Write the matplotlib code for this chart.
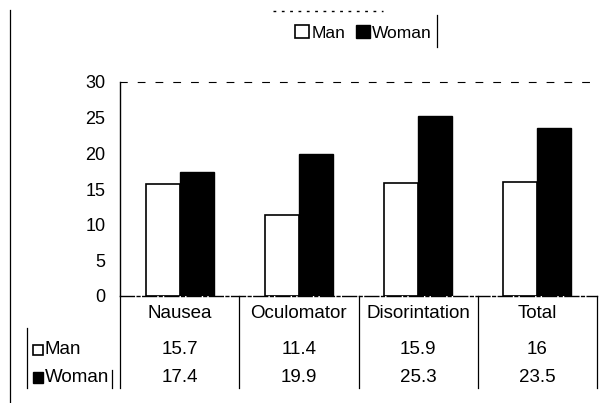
import matplotlib
matplotlib.use("Agg")
import matplotlib.pyplot as plt
import matplotlib.transforms as mtransforms
from matplotlib.patches import Rectangle
from matplotlib.lines import Line2D
import numpy as np

categories = ["Nausea", "Oculomator", "Disorintation", "Total"]
man = [15.7, 11.4, 15.9, 16]
woman = [17.4, 19.9, 25.3, 23.5]
man_labels = ["15.7", "11.4", "15.9", "16"]
woman_labels = ["17.4", "19.9", "25.3", "23.5"]
yticks = [0, 5, 10, 15, 20, 25, 30]

plt.rcParams['font.family'] = ['Liberation Sans', 'DejaVu Sans']

W, H = 608, 403
fig = plt.figure(figsize=(W / 100, H / 100), dpi=100)

def fx(px):
    return px / W

def fy(py):
    return 1 - py / H

ax_l, ax_r, ax_t, ax_b = 120, 597, 82, 296
ax = fig.add_axes([fx(ax_l), fy(ax_b), (ax_r - ax_l) / W, (ax_b - ax_t) / H])

x = np.arange(len(categories))
bw = 1 / 3.5
ax.bar(x - bw / 2, man, bw, color="white", edgecolor="black", linewidth=1.2, label="Man")
ax.bar(x + bw / 2, woman, bw, color="black", edgecolor="black", linewidth=1.0, label="Woman")

ax.set_xlim(-0.5, len(categories) - 0.5)
ax.set_ylim(0, 30)
ax.set_yticks(yticks)
ax.set_xticks([])
ax.tick_params(axis="y", length=0, pad=10.5, labelsize=13)
for s in ["right"]:
    ax.spines[s].set_visible(False)
ax.spines["top"].set_linestyle((0, (6, 10)))
ax.spines["top"].set_linewidth(0.8)
ax.spines["left"].set_linewidth(1.0)
ax.spines["bottom"].set_linewidth(1.0)
ax.spines["bottom"].set_linestyle((0, (10, 2, 2, 2)))

# Data table
blend = mtransforms.blended_transform_factory(ax.transData, fig.transFigure)
for i, c in enumerate(categories):
    ax.text(i, fy(313), c, transform=blend, ha="center", va="center", fontsize=13.5, clip_on=False)
    ax.text(i, fy(349), man_labels[i], transform=blend, ha="center", va="center", fontsize=13.5, clip_on=False)
    ax.text(i, fy(377), woman_labels[i], transform=blend, ha="center", va="center", fontsize=13.5, clip_on=False)

# table vertical lines
for b in np.arange(len(categories) + 1) - 0.5:
    ax.add_line(Line2D([b, b], [fy(296), fy(388)], transform=blend, color="black",
                       linewidth=0.9, clip_on=False))
fig.add_artist(Line2D([fx(27), fx(27)], [fy(328), fy(388)], color="black", linewidth=0.9))
fig.add_artist(Line2D([fx(112), fx(112)], [fy(370), fy(388)], color="black", linewidth=0.9))

# row headers
fig.add_artist(Rectangle((fx(33), fy(355)), 10 / W, 10 / H, facecolor="white", edgecolor="black", linewidth=1.2))
fig.add_artist(Rectangle((fx(33), fy(383)), 10 / W, 11 / H, facecolor="black", edgecolor="black", linewidth=1.0))
fig.text(fx(45), fy(349), "Man", ha="left", va="center", fontsize=13.5)
fig.text(fx(45), fy(377), "Woman", ha="left", va="center", fontsize=13.5)

# left border line and legend border
fig.add_artist(Line2D([fx(10), fx(10)], [fy(10), fy(403)], color="black", linewidth=0.9))
fig.add_artist(Line2D([fx(437), fx(437)], [fy(15), fy(47)], color="black", linewidth=0.9))
fig.add_artist(Line2D([fx(273), fx(383)], [fy(11), fy(11)], color="black", linewidth=1.0,
                      linestyle=(0, (2, 4))))

# legend
leg = fig.legend(loc="center right", bbox_to_anchor=(fx(432), fy(33)), ncol=2,
                 frameon=False, fontsize=12.5, handlelength=0.8, handleheight=0.8,
                 handletextpad=0.15, columnspacing=0.6, borderpad=0, borderaxespad=0)

fig.savefig("out.png", dpi=100)
